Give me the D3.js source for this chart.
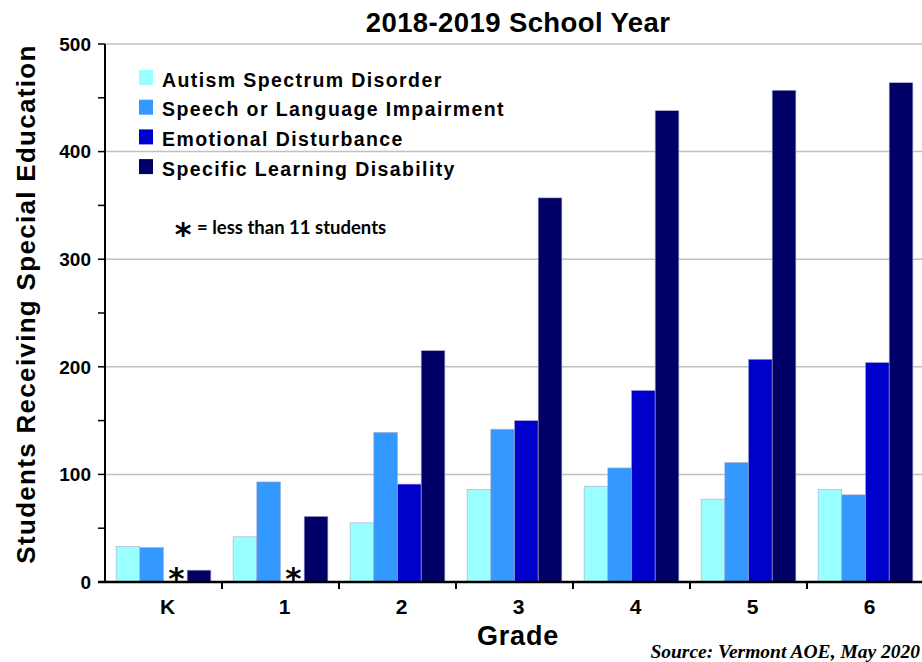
<!DOCTYPE html>
<html>
<head>
<meta charset="utf-8">
<script src="https://cdn.jsdelivr.net/npm/d3@7"></script>
<style>
  body { margin: 0; background: #fff; }
  svg { display: block; }
</style>
</head>
<body>
<script>
const width = 922;
const height = 662;

// chart data
const grades = ["K", "1", "2", "3", "4", "5", "6"];
const seriesNames = ["Autism Spectrum Disorder", "Speech or Language Impairment", "Emotional Disturbance", "Specific Learning Disability"];
const seriesColors = ["#99ffff", "#3399ff", "#0000cc", "#000066"];
const autism = [33, 42, 55, 86, 89, 77, 86];
const speech = [32, 93, 139, 142, 106, 111, 81];
const emotional = [null, null, 91, 150, 178, 207, 204];   // null = less than 11 students
const learning = [11, 61, 215, 357, 438, 457, 464];
const yTicks = [0, 100, 200, 300, 400, 500];

const seriesValues = [autism, speech, emotional, learning];

const margin = { top: 44, right: -2, bottom: 80, left: 105 };

const font = "Liberation Sans, Arial, sans-serif";

const svg = d3.select("body").append("svg")
  .attr("width", width)
  .attr("height", height);

const x0 = d3.scaleBand()
  .domain(grades)
  .range([margin.left, width - margin.right])
  .paddingInner(0)
  .paddingOuter(0);

const x1 = d3.scaleBand()
  .domain(d3.range(seriesNames.length))
  .range([0, x0.bandwidth()])
  .paddingOuter(0.47)
  .paddingInner(0);

const y = d3.scaleLinear()
  .domain([0, 500])
  .range([height - margin.bottom, margin.top]);

// gridlines
svg.append("g")
  .selectAll("line")
  .data(yTicks.filter(d => d > 0))
  .enter()
  .append("line")
  .attr("x1", margin.left)
  .attr("x2", width)
  .attr("y1", d => y(d))
  .attr("y2", d => y(d))
  .attr("stroke", "#c0c0c0")
  .attr("stroke-width", 1.5);

// bars
const groups = svg.append("g")
  .selectAll("g")
  .data(grades)
  .enter()
  .append("g")
  .attr("transform", d => `translate(${x0(d)},0)`);

groups.selectAll("rect")
  .data((g, gi) => seriesValues.map((vals, si) => ({ si, v: vals[gi] })).filter(d => d.v != null))
  .enter()
  .append("rect")
  .attr("x", d => x1(d.si))
  .attr("width", x1.bandwidth())
  .attr("y", d => y(d.v))
  .attr("height", d => y(0) - y(d.v))
  .attr("fill", d => seriesColors[d.si])
  .attr("stroke", "#a8a8d0")
  .attr("stroke-width", 0.6);

// asterisks for suppressed values
groups.selectAll("text.star")
  .data((g, gi) => seriesValues.map((vals, si) => ({ si, v: vals[gi] })).filter(d => d.v == null))
  .enter()
  .append("text")
  .attr("class", "star")
  .attr("x", d => x1(d.si) + x1.bandwidth() / 2 + 1)
  .attr("y", y(0) + 7)
  .attr("text-anchor", "middle")
  .attr("font-family", "DejaVu Sans, sans-serif")
  .attr("font-weight", "bold")
  .attr("font-size", 31)
  .attr("fill", "#000")
  .text("*");

// y axis
const yAxis = svg.append("g")
  .attr("transform", `translate(${margin.left},0)`);

yAxis.append("line")
  .attr("x1", 0).attr("x2", 0)
  .attr("y1", y(500)).attr("y2", y(0))
  .attr("stroke", "#000").attr("stroke-width", 2);

yAxis.selectAll("line.minor")
  .data(d3.range(0, 501, 50))
  .enter()
  .append("line")
  .attr("class", "minor")
  .attr("x1", -7).attr("x2", 0)
  .attr("y1", d => y(d)).attr("y2", d => y(d))
  .attr("stroke", "#000").attr("stroke-width", 1.5);

yAxis.selectAll("text")
  .data(yTicks)
  .enter()
  .append("text")
  .attr("x", -14)
  .attr("y", d => y(d))
  .attr("dy", "0.36em")
  .attr("text-anchor", "end")
  .attr("font-family", font)
  .attr("font-weight", "bold")
  .attr("font-size", 19)
  .text(d => d);

// x axis
const xAxis = svg.append("g");
xAxis.append("line")
  .attr("x1", margin.left - 7).attr("x2", width)
  .attr("y1", y(0)).attr("y2", y(0))
  .attr("stroke", "#000").attr("stroke-width", 2.5);

xAxis.selectAll("line.tick")
  .data(grades.slice(1))
  .enter()
  .append("line")
  .attr("class", "tick")
  .attr("x1", d => x0(d)).attr("x2", d => x0(d))
  .attr("y1", y(0)).attr("y2", y(0) + 7)
  .attr("stroke", "#000").attr("stroke-width", 2);

xAxis.selectAll("text")
  .data(grades)
  .enter()
  .append("text")
  .attr("x", d => x0(d) + x0.bandwidth() / 2 + 4)
  .attr("y", y(0) + 32)
  .attr("text-anchor", "middle")
  .attr("font-family", font)
  .attr("font-weight", "bold")
  .attr("font-size", 21)
  .text(d => d);

// titles
svg.append("text")
  .attr("x", 518)
  .attr("y", 32)
  .attr("text-anchor", "middle")
  .attr("font-family", font)
  .attr("font-weight", "bold")
  .attr("font-size", 27.5)
  .attr("letter-spacing", 0.4)
  .text("2018-2019 School Year");

svg.append("text")
  .attr("x", 518)
  .attr("y", 645)
  .attr("text-anchor", "middle")
  .attr("font-family", font)
  .attr("font-weight", "bold")
  .attr("font-size", 27)
  .attr("letter-spacing", 0.8)
  .text("Grade");

svg.append("text")
  .attr("transform", `translate(35, 304) rotate(-90)`)
  .attr("text-anchor", "middle")
  .attr("font-family", font)
  .attr("font-weight", "bold")
  .attr("font-size", 26)
  .attr("letter-spacing", 1.3)
  .text("Students Receiving Special Education");

// legend
const legend = svg.append("g")
  .attr("transform", "translate(139, 70)");

const items = legend.selectAll("g")
  .data(seriesNames)
  .enter()
  .append("g")
  .attr("transform", (d, i) => `translate(0, ${i * 29.7})`);

items.append("rect")
  .attr("width", 14).attr("height", 15)
  .attr("fill", (d, i) => seriesColors[i]);

items.append("text")
  .attr("x", 23)
  .attr("y", 16.5)
  .attr("font-family", font)
  .attr("font-weight", "bold")
  .attr("font-size", 19.5)
  .attr("letter-spacing", 1.4)
  .text(d => d);

// note
svg.append("text")
  .attr("x", 183)
  .attr("y", 245)
  .attr("text-anchor", "middle")
  .attr("font-family", "DejaVu Sans, sans-serif")
  .attr("font-weight", "bold")
  .attr("font-size", 32)
  .text("*");

svg.append("text")
  .attr("x", 197)
  .attr("y", 234)
  .attr("font-family", "Lato, sans-serif")
  .attr("font-weight", "bold")
  .attr("font-size", 18.5)
  .text("= less than 11 students");

// source
svg.append("text")
  .attr("x", 920)
  .attr("y", 658)
  .attr("text-anchor", "end")
  .attr("font-family", "Liberation Serif, Times New Roman, serif")
  .attr("font-weight", "bold")
  .attr("font-style", "italic")
  .attr("font-size", 19.5)
  .text("Source: Vermont AOE, May 2020");
</script>
</body>
</html>
